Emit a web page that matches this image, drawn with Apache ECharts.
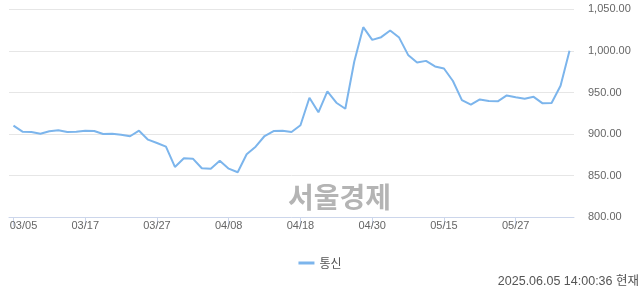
<!DOCTYPE html>
<html><head><meta charset="utf-8">
<script src="https://cdn.jsdelivr.net/npm/echarts@6/dist/echarts.min.js"></script>
<style>html,body{margin:0;padding:0;background:#fff}#c{width:640px;height:294px}</style>
</head><body><div id="c"></div>
<script>
const dates = ["03/05","03/06","03/07","03/10","03/11","03/12","03/13","03/14","03/17","03/18","03/19","03/20","03/21","03/24","03/25","03/26","03/27","03/28","03/31",
"04/01","04/02","04/03","04/04","04/07","04/08","04/09","04/10","04/11","04/14","04/15","04/16","04/17","04/18","04/21","04/22","04/23","04/24","04/25","04/28","04/29","04/30",
"05/02","05/07","05/08","05/09","05/12","05/13","05/14","05/15","05/16","05/19","05/20","05/21","05/22","05/23","05/26","05/27","05/28","05/29","05/30",
"06/02","06/04","06/05"];
const values = [910.1,902.9,902.5,900.5,903.4,904.6,902.5,902.9,904.1,903.7,900.1,900.5,899.3,897.4,904.1,893.3,889.3,884.9,860.5,870.9,870.5,
858.9,858.5,868.0,858.5,854.1,875.7,884.9,897.7,903.7,904.1,902.5,910.6,943.7,926.2,951.4,937.7,930.5,987.3,1028.5,1013.2,
1016.5,1024.6,1016.0,995.2,986.0,988.0,981.3,978.8,963.8,940.9,935.3,941.7,939.8,939.4,946.5,944.2,942.4,944.8,937.0,937.4,958.2,1000.3];
const seriesName = "통신";
const yMin = 800, yMax = 1050, yStep = 50;
const stamp = "2025.06.05 14:00:36 현재";
const watermark = "서울경제";

const chart = echarts.init(document.getElementById('c'), null, {renderer:'canvas'});
chart.setOption({
  animation:false,
  grid:{left:9,right:66,top:9.3,bottom:76.7,containLabel:false},
  legend:{show:true,bottom:20,left:'center',itemWidth:16,itemHeight:3,itemGap:10,
    icon:'rect',
    textStyle:{color:'#555',fontSize:12,fontFamily:'"Noto Sans CJK KR", sans-serif'},
    data:[seriesName]},
  xAxis:{type:'category',data:dates,boundaryGap:true,
    axisLine:{lineStyle:{color:'#ccd6eb',width:1}},
    axisTick:{show:true,alignWithLabel:true,interval:7,length:9,lineStyle:{color:'#ccd6eb'}},
    axisLabel:{interval:7,margin:3,color:'#666',fontSize:11,fontFamily:'"Liberation Sans", Arial, sans-serif',showMinLabel:true,
      formatter:(v,i)=> i===0 ? '{f|'+v+'}' : v,
      rich:{f:{padding:[0,0,0,20],color:'#666',fontSize:11,fontFamily:'"Liberation Sans", Arial, sans-serif'}}},
    splitLine:{show:false}},
  yAxis:{type:'value',position:'right',min:yMin,max:yMax,interval:yStep,
    axisLine:{show:false},axisTick:{show:false},
    axisLabel:{margin:14,color:'#666',fontSize:11,fontFamily:'"Liberation Sans", Arial, sans-serif',
      formatter:v=>v.toLocaleString('en-US',{minimumFractionDigits:2,maximumFractionDigits:2})},
    splitLine:{lineStyle:{color:'#e6e6e6',width:1}}},
  graphic:[
    {type:'text',left:288,top:183,z:0,silent:true,style:{text:watermark,fill:'#b4b4b4',font:'bold 28px "Noto Sans CJK KR", sans-serif'}},
    {type:'text',right:1,top:275,style:{text:stamp,fill:'#555',font:'12.5px "Liberation Sans", "Noto Sans CJK KR", sans-serif'}}
  ],
  series:[{name:seriesName,type:'line',data:values,symbol:'none',smooth:false,z:5,
    lineStyle:{color:'#7cb5ec',width:2},itemStyle:{color:'#7cb5ec'}}]
});
</script></body></html>
